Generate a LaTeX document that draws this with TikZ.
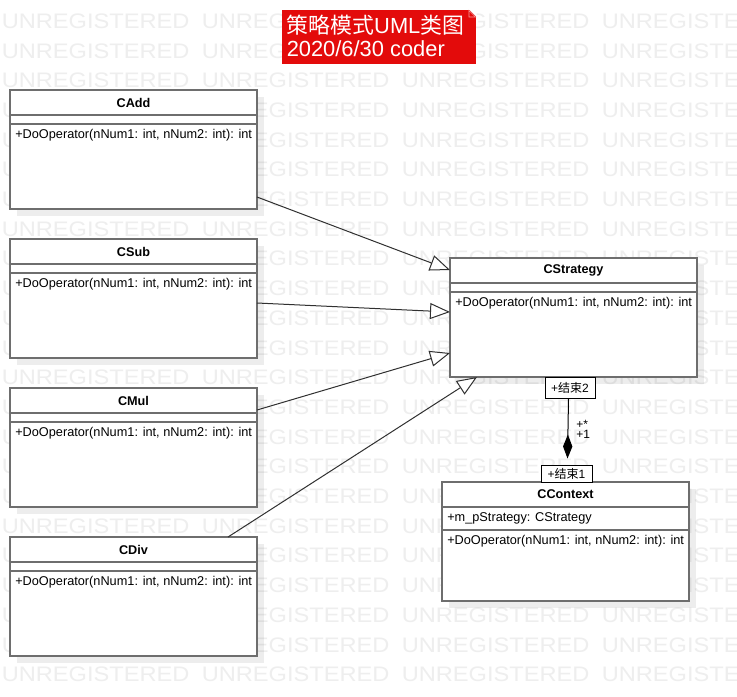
\documentclass[tikz,border=0pt]{standalone}
\usepackage{fontspec}
\setmainfont{Liberation Sans}
\newfontfamily\cjk{Noto Sans CJK SC}
\usetikzlibrary{arrows.meta,calc,shadows}
\definecolor{wm}{HTML}{EEEEEE}
\definecolor{bordergray}{HTML}{6E6E6E}
\definecolor{notered}{HTML}{E30B0B}
\definecolor{linec}{HTML}{303030}
\newcommand\myfs[1]{\fontsize{#1}{#1}\selectfont}
\newcommand\myclass[3]{%
  \node[cls] (#1) at (#2) {};
  \draw[divider] ($(#1.north west)+(0,25)$) -- ($(#1.north east)+(0,25)$);
  \draw[divider] ($(#1.north west)+(0,34)$) -- ($(#1.north east)+(0,34)$);
  \node[cname] (#1-name) at ($(#1.north)+(0,12.5)$) {#3};
  \node[member] (#1-op) at ($(#1.north west)+(5,45.5)$) {+DoOperator(nNum1: int, nNum2: int): int};
}
\begin{document}
\begin{tikzpicture}[x=0.75pt,y=-0.75pt,
  cls/.style={draw=bordergray, line width=1.1pt, fill=white, minimum width=185.25pt,
    minimum height=89.25pt, anchor=north west, inner sep=0pt, outer sep=0pt,
    drop shadow={shadow xshift=5.5pt, shadow yshift=-5pt, fill=black, opacity=0.07}},
  cname/.style={font=\myfs{9.5pt}\bfseries, inner sep=0pt, text=black},
  member/.style={font=\myfs{9.55pt}, inner sep=0pt, anchor=west, text=black},
  divider/.style={draw=bordergray, line width=1.1pt},
  gen/.style={draw=linec, line width=0.75pt, -{Triangle[open, length=15pt, width=12pt, fill=white]}},
  role/.style={draw=black, line width=0.75pt, fill=white, inner sep=0pt, font=\myfs{9pt}},
  mult/.style={font=\myfs{9pt}, inner sep=0pt, anchor=west, text=black},
  wmark/.style={text=wm, font=\myfs{15.75pt}, inner sep=0pt, anchor=base west},
  notetext/.style={anchor=base west, inner sep=0pt, text=white, font=\myfs{16.4pt}},
]
\fill[white] (0,0) rectangle (737,696);
\useasboundingbox (0,0) rectangle (737,696);
\begin{scope}
  \clip (0,0) rectangle (737,696);
  \foreach \k in {0,...,22}{
    \foreach \xx in {0,200,400,600}{
      \node[wmark] (w\k-\xx) at (\xx+1.5, 28.3+29.7*\k) {\scalebox{1.125}[1]{UNREGISTERED}};
    }
  }
\end{scope}

% title note
\node[fill=notered, inner sep=0pt, minimum width=145.5pt, minimum height=40.5pt, anchor=north west] (note) at (282,10) {};
\fill[white] (469,9.5) -- (476.5,9.5) -- (476.5,17) -- cycle;
\filldraw[fill=notered, draw=white!60!notered, line width=0.5pt] (469,10.5) -- (469,17) -- (475.5,17) -- cycle;
\node[notetext] (notel1) at (286.5,33) {{\cjk 策略模式}UML{\cjk 类图}};
\node[notetext] (notel2) at (286.5,56) {2020/6/30 coder};

% classes
\myclass{cadd}{10,90}{CAdd}
\myclass{csub}{10,239}{CSub}
\myclass{cmul}{10,388}{CMul}
\myclass{cdiv}{10,537}{CDiv}
\myclass{cstrategy}{450,258}{CStrategy}

\node[cls] (ccontext) at (442,482) {};
\draw[divider] ($(ccontext.north west)+(0,25)$) -- ($(ccontext.north east)+(0,25)$);
\draw[divider] ($(ccontext.north west)+(0,48)$) -- ($(ccontext.north east)+(0,48)$);
\node[cname] (ccontext-name) at ($(ccontext.north)+(0,12.5)$) {CContext};
\node[member] (ccontext-attr) at ($(ccontext.north west)+(5,36.5)$) {+m\_pStrategy: CStrategy};
\node[member] (ccontext-op) at ($(ccontext.north west)+(5,59)$) {+DoOperator(nNum1: int, nNum2: int): int};

% generalizations
\draw[gen] ($(cadd.south east)+(0,-12)$) -- ($(cstrategy.north west)+(0,12)$);
\draw[gen] ($(csub.north east)+(0,64)$) -- ($(cstrategy.north west)+(0,54)$);
\draw[gen] ($(cmul.north east)+(0,22)$) -- ($(cstrategy.north west)+(0,95)$);
\draw[gen] ($(cdiv.north west)+(218,0)$) -- ($(cstrategy.south west)+(27,0)$);

% composition
\node[role, minimum width=37.5pt, minimum height=15.75pt] (end2) at (570,387.5) {+{\cjk 结束}2};
\node[role, minimum width=38.25pt, minimum height=12.75pt] (end1) at (566.5,473.5) {+{\cjk 结束}1};
\draw[draw=black, line width=0.75pt, -{Diamond[length=18pt, width=7pt, fill=black]}]
  ($(end2.south)+(-1.5,0)$) -- ($(end1.north)+(1,-6)$);
\node[mult] (mstar) at (576,424) {+*};
\node[mult] (mone) at (576,434) {+1};
\end{tikzpicture}
\end{document}
